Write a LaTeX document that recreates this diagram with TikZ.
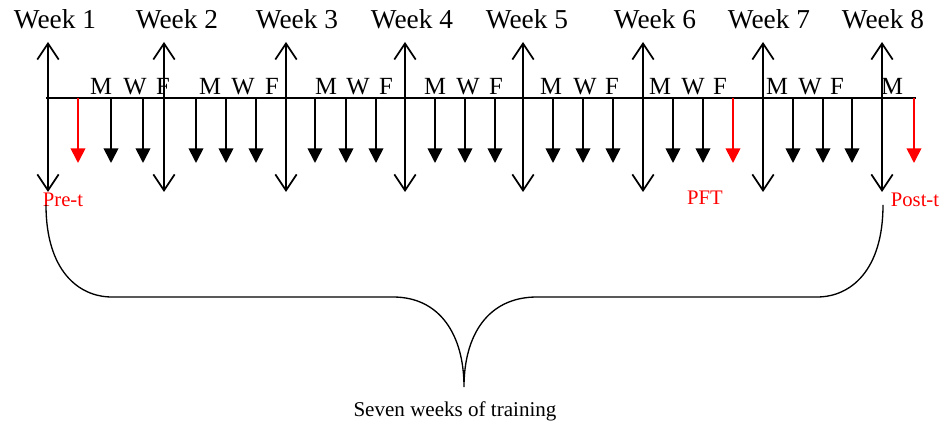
\documentclass[tikz,border=0pt]{standalone}
\usepackage{fontspec}
\setmainfont{Liberation Serif}
\usetikzlibrary{arrows.meta}

\begin{document}
\begin{tikzpicture}[
  x=0.75pt, y=-0.75pt,
  weekarrow/.style={{Straight Barb[length=12pt,width=16pt]}-{Straight Barb[length=12pt,width=16pt]}, line width=1.3pt},
  dayarrow/.style={-{Triangle[length=11pt,width=11pt]}, line width=1.3pt},
  testarrow/.style={dayarrow, red},
  weeklabel/.style={anchor=base, inner sep=0pt, font=\fontsize{20.5}{24}\selectfont},
  daylabel/.style={anchor=base, inner sep=0pt, font=\fontsize{18.5}{22}\selectfont},
  testlabel/.style={anchor=base, inner sep=0pt, red, font=\fontsize{15.5}{18}\selectfont}
]
  \useasboundingbox (0,0) rectangle (943,423);

  % timeline
  \coordinate (tl-start) at (46,98);
  \coordinate (tl-end) at (916,98);
  \draw[line width=1.3pt] (tl-start) -- (tl-end);

  % week markers
  \foreach \n/\x/\lx in {1/48/55, 2/164/177, 3/286/297, 4/405/412, 5/523/527, 6/643/655, 7/763/769, 8/882/883} {
    \node[weeklabel] (week\n) at (\lx,29) {Week \n};
    \coordinate (wk\n-top) at (\x,42);
    \coordinate (wk\n-bot) at (\x,192);
    \draw[weekarrow] (wk\n-top) -- (wk\n-bot);
  }

  % training days
  \foreach \d/\x in {M/101, W/135, F/163, M/210, W/243, F/272, M/326, W/358, F/386, M/435, W/468, F/496,
                     M/551, W/585, F/612, M/660, W/693, F/720, M/777, W/810, F/837, M/892}
    \node[daylabel] at (\x,95) {\d};
  \foreach \x [count=\i] in {111,143,196,226,256,315,346,376,435,465,495,553,583,613,673,703,793,823,852} {
    \coordinate (day\i-top) at (\x,98);
    \coordinate (day\i-tip) at (\x,163);
    \draw[dayarrow] (day\i-top) -- (day\i-tip);
  }

  % tests
  \foreach \x/\name in {78/pre, 733/pft, 914/post} {
    \coordinate (\name-top) at (\x,98);
    \coordinate (\name-tip) at (\x,163);
    \draw[testarrow] (\name-top) -- (\name-tip);
  }
  \node[testlabel] (pretest) at (63,207) {Pre-t};
  \node[testlabel] (pfttest) at (705,205) {PFT};
  \node[testlabel] (posttest) at (915,207) {Post-t};

  % brace under the training weeks
  \coordinate (brace-l) at (46,205);
  \coordinate (brace-tip) at (464,387);
  \coordinate (brace-r) at (883,205);
  \draw[line width=1pt] (brace-l) .. controls (46,270) and (78,297) .. (112,297) -- (393,297)
    .. controls (440,297) and (464,335) .. (brace-tip)
    .. controls (464,335) and (488,297) .. (537,297) -- (817,297)
    .. controls (851,297) and (883,270) .. (brace-r);
  \node[anchor=base, inner sep=0pt, font=\fontsize{15.8}{19}\selectfont] (caption) at (455,417) {Seven weeks of training};
\end{tikzpicture}
\end{document}
